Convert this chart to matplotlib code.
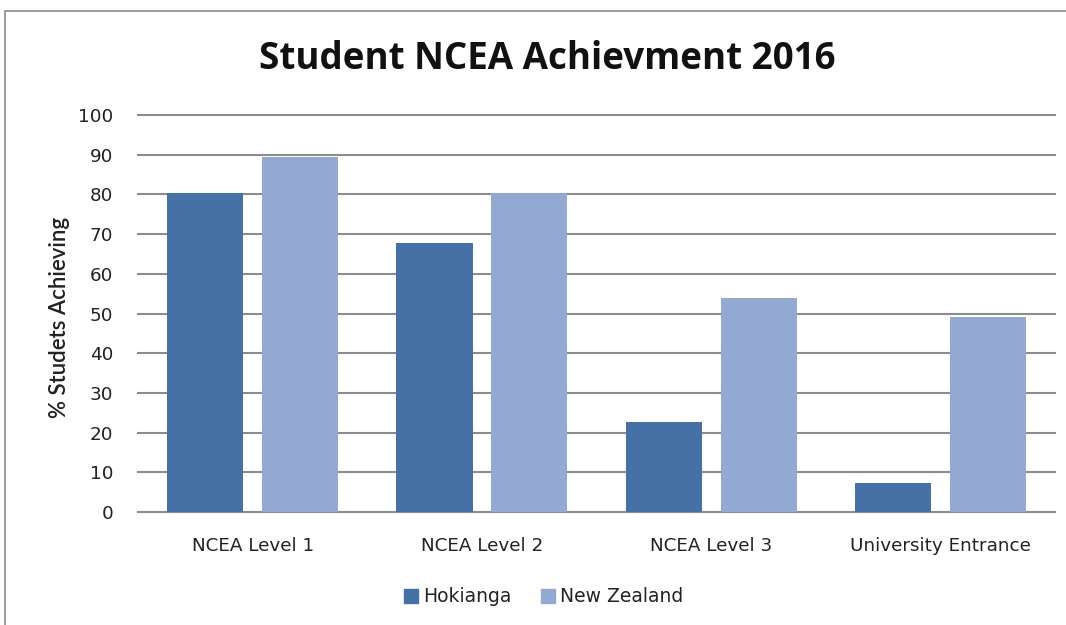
import numpy as np
import matplotlib.pyplot as plt
from matplotlib.patches import Rectangle, Patch

categories = ["NCEA Level 1", "NCEA Level 2", "NCEA Level 3", "University Entrance"]
hokianga = [80.4, 67.8, 22.6, 7.2]
new_zealand = [89.3, 80.3, 53.8, 49.2]
yticks = [0, 10, 20, 30, 40, 50, 60, 70, 80, 90, 100]

c_hok = '#4571a7'
c_nz = '#94a9d1'

fig = plt.figure(figsize=(10.66, 6.25), dpi=100)
ax = fig.add_axes([0.1295, 0.1808, 0.8602, 0.6352])

x = np.arange(len(categories)) + 0.5
w = 0.332
ax.bar(x - 0.207, hokianga, w, color=c_hok, zorder=3)
ax.bar(x + 0.207, new_zealand, w, color=c_nz, zorder=3)

ax.set_xlim(0, len(categories))
ax.set_ylim(0, 100)
ax.set_yticks(yticks)
ax.set_xticks(x)
ax.set_xticklabels(categories, fontsize=13.2, color='#222222')
ax.tick_params(axis='y', length=0, pad=18, labelsize=13.2, labelcolor='#222222')
ax.tick_params(axis='x', length=0, pad=18)
for v in yticks:
    ax.axhline(v, color='#8c8c8c', lw=1.5, zorder=1, clip_on=False)
for s in ax.spines.values():
    s.set_visible(False)

ax.set_ylabel("% Studets Achieving", fontsize=16, fontweight='semibold',
              family='Lato', color='#222222')
ax.yaxis.set_label_coords(-0.074, 0.49)

fig.text(0.513, 0.905, "Student NCEA Achievment 2016", ha='center', va='center',
         fontsize=26.5, fontweight='bold', family='Open Sans', color='#111111')

handles = [Patch(color=c_hok, label="Hokianga"), Patch(color=c_nz, label="New Zealand")]
fig.legend(handles=handles, loc='center', bbox_to_anchor=(0.51, 0.045), ncol=2,
           frameon=False, fontsize=13.5, handlelength=0.75, handleheight=0.75,
           handletextpad=0.25, columnspacing=1.6, labelcolor='#222222')

fig.patches.append(Rectangle((5 / 1066, -0.05), 1.1, 1.05 - 11 / 625,
                             transform=fig.transFigure, fill=False,
                             edgecolor='#8c8c8c', lw=1.2))

fig.savefig("out.png", dpi=100)
